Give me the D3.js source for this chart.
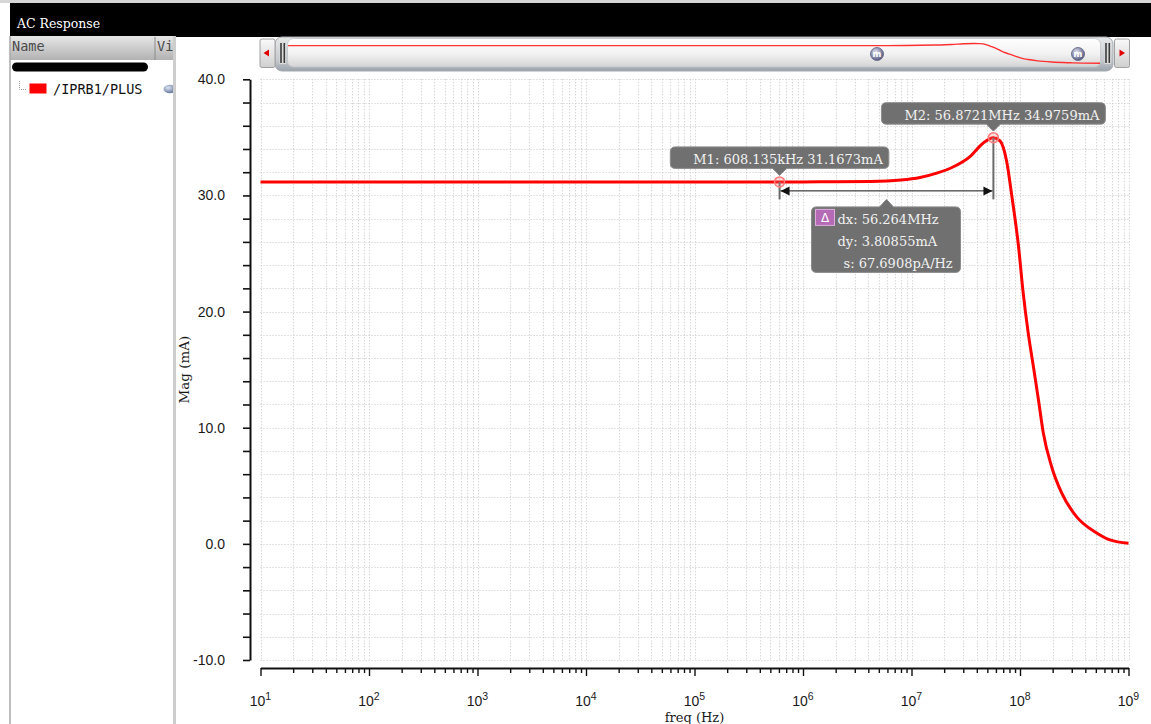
<!DOCTYPE html>
<html>
<head>
<meta charset="utf-8">
<title>AC Response</title>
<script src="https://cdn.jsdelivr.net/npm/d3@7"></script>
<style>
  html, body { margin: 0; padding: 0; background: #fff; overflow: hidden; }
  svg { display: block; }
</style>
</head>
<body>
<svg id="chart" width="1151" height="724"></svg>
<script>
// ---- AC sweep of the current through /IPRB1/PLUS ----
const signalNames = ["/IPRB1/PLUS"];
const freqHz = [1e1, 1e2, 1e3, 1e4, 1e5, 6.08135e5, 1e6, 2e6, 4.14e6, 8e6, 1.2e7, 1.71e7, 2.41e7,
  3.46e7, 4.56e7, 5.68721e7, 6.55e7, 7.54e7, 8.38e7, 9.68e7, 1.07e8, 1.19e8, 1.33e8, 1.48e8,
  1.64e8, 1.96e8, 2.42e8, 3.33e8, 5.09e8, 6.75e8, 1e9];
const magMA = [31.167, 31.167, 31.167, 31.167, 31.167, 31.1673, 31.168, 31.175, 31.2, 31.33, 31.55,
  31.92, 32.45, 33.35, 34.5, 34.9759, 34.7, 32.92, 30.05, 25.66, 21.61, 18.17, 15.24, 12.39,
  9.55, 6.62, 4.38, 2.32, 0.94, 0.34, 0.05];

// axis ticks
const yTickValues = [-10, -8, -6, -4, -2, 0, 2, 4, 6, 8, 10, 12, 14, 16, 18, 20, 22, 24, 26, 28, 30, 32, 34, 36, 38, 40];
const yTickLabels = { "-10": "-10.0", "0": "0.0", "10": "10.0", "20": "20.0", "30": "30.0", "40": "40.0" };
const xDecadeExponents = [1, 2, 3, 4, 5, 6, 7, 8, 9];
const xMinorMultipliers = [2, 3, 4, 5, 6, 7, 8, 9];

// markers
const markerFreqHz = [608.135e3, 56.8721e6];
const markerMagMA = [31.1673, 34.9759];
const markerLabels = ["M1: 608.135kHz 31.1673mA", "M2: 56.8721MHz 34.9759mA"];
const deltaLabels = ["dx: 56.264MHz", "dy: 3.80855mA", "s: 67.6908pA/Hz"];

const W = 1151, H = 724;
const svg = d3.select("#chart");
const defs = svg.append("defs");

function vGrad(id, stops) {
  const g = defs.append("linearGradient").attr("id", id)
    .attr("x1", 0).attr("y1", 0).attr("x2", 0).attr("y2", 1);
  stops.forEach(([o, c]) => g.append("stop").attr("offset", o).attr("stop-color", c));
}
vGrad("hdrGrad", [[0, "#e6e6e6"], [1, "#b2b2b2"]]);
vGrad("trackGrad", [[0, "#ffffff"], [0.55, "#f1f1f1"], [1, "#d4d4d6"]]);
vGrad("rimGrad", [[0, "#e8e8e8"], [0.7, "#c4c8cc"], [1, "#9aa2aa"]]);
vGrad("btnGrad", [[0, "#fafafa"], [1, "#cfcfcf"]]);
const rg = defs.append("radialGradient").attr("id", "mBall").attr("cx", "40%").attr("cy", "35%").attr("r", "65%");
rg.append("stop").attr("offset", 0).attr("stop-color", "#e4e4f2");
rg.append("stop").attr("offset", 1).attr("stop-color", "#555a80");
const eg = defs.append("radialGradient").attr("id", "eyeGrad").attr("cx", "35%").attr("cy", "35%").attr("r", "70%");
eg.append("stop").attr("offset", 0).attr("stop-color", "#dde4f2");
eg.append("stop").attr("offset", 1).attr("stop-color", "#5d6f96");
defs.append("clipPath").attr("id", "panelClip").append("rect").attr("x", 10).attr("y", 36).attr("width", 163).attr("height", H - 36);

// ---------- window frame ----------
svg.append("rect").attr("width", W).attr("height", H).attr("fill", "#fff");
svg.append("rect").attr("x", 0).attr("y", 0).attr("width", W).attr("height", 3).attr("fill", "#d6d6d6");
svg.append("rect").attr("x", 10).attr("y", 3).attr("width", W - 10).attr("height", 34).attr("fill", "#000");
svg.append("text").attr("x", 17).attr("y", 28)
  .attr("font-family", "DejaVu Serif").attr("font-size", 12.5).attr("fill", "#fff")
  .text("AC Response");

// ---------- left signal panel ----------
const panel = svg.append("g").attr("clip-path", "url(#panelClip)");
panel.append("rect").attr("x", 10).attr("y", 36).attr("width", 163).attr("height", 24).attr("fill", "url(#hdrGrad)");
panel.append("line").attr("x1", 155).attr("x2", 155).attr("y1", 37).attr("y2", 60).attr("stroke", "#8c8c8c");
panel.append("text").attr("x", 12).attr("y", 51)
  .attr("font-family", "DejaVu Sans Mono").attr("font-size", 13.5).attr("fill", "#4a4a4a").text("Name");
panel.append("text").attr("x", 157).attr("y", 51)
  .attr("font-family", "DejaVu Sans Mono").attr("font-size", 13.5).attr("fill", "#4a4a4a").text("Vis");
panel.append("rect").attr("x", 12).attr("y", 62.5).attr("width", 136).attr("height", 9).attr("rx", 4.5).attr("fill", "#000");
// tree connector
panel.append("path").attr("d", "M19.5,81 V89.5 H26").attr("fill", "none")
  .attr("stroke", "#9a9a9a").attr("stroke-dasharray", "1,1");
const legendRow = panel.selectAll("g.sig").data(signalNames).join("g").attr("class", "sig");
legendRow.append("rect").attr("x", 29.5).attr("y", 83.5).attr("width", 17).attr("height", 10).attr("fill", "#ff0000");
legendRow.append("text").attr("x", 53).attr("y", 93.5)
  .attr("font-family", "DejaVu Sans Mono").attr("font-size", 13.5).attr("fill", "#111").text(d => d);
legendRow.append("ellipse").attr("cx", 170).attr("cy", 89).attr("rx", 6.5).attr("ry", 4.2).attr("fill", "url(#eyeGrad)");
// panel borders
svg.append("line").attr("x1", 10).attr("x2", 10).attr("y1", 36).attr("y2", H).attr("stroke", "#a8a8a8").attr("stroke-width", 1.5);
svg.append("rect").attr("x", 173).attr("y", 36).attr("width", 3).attr("height", H - 36).attr("fill", "#cdcdcd");

// ---------- scales ----------
const x = d3.scaleLog().domain([1e1, 1e9]).range([260.5, 1128.5]);
const y = d3.scaleLinear().domain([-10, 40]).range([660, 79.3]);

// all log tick positions
const xTickValues = [];
xDecadeExponents.forEach(e => {
  xTickValues.push(Math.pow(10, e));
  if (e < 9) xMinorMultipliers.forEach(m => xTickValues.push(m * Math.pow(10, e)));
});
const isDecade = v => Math.abs(Math.log10(v) - Math.round(Math.log10(v))) < 1e-9;

// ---------- grid ----------
const grid = svg.append("g").attr("stroke", "#c6c6c6").attr("stroke-width", 1).attr("stroke-dasharray", "1,2");
grid.selectAll("line.gx").data(xTickValues).join("line").attr("class", "gx")
  .attr("x1", d => Math.round(x(d)) + 0.5).attr("x2", d => Math.round(x(d)) + 0.5)
  .attr("y1", y(40)).attr("y2", y(-10));
grid.selectAll("line.gy").data(yTickValues).join("line").attr("class", "gy")
  .attr("x1", x(1e1)).attr("x2", x(1e9))
  .attr("y1", d => Math.round(y(d)) + 0.5).attr("y2", d => Math.round(y(d)) + 0.5);

// ---------- axes ----------
const yAxis = d3.axisLeft(y).tickValues(yTickValues).tickSize(7).tickSizeOuter(0).tickPadding(18)
  .tickFormat(d => yTickLabels[String(d)] || "");
const gy = svg.append("g").attr("transform", "translate(250,0)").call(yAxis);
gy.select(".domain").attr("stroke", "#111").attr("stroke-width", 2);
gy.selectAll(".tick line").attr("stroke", "#111").attr("stroke-width", 1.6);
gy.selectAll(".tick text").attr("font-family", "Liberation Sans").attr("font-size", 14).attr("fill", "#1a1a1a");

const xAxis = d3.axisBottom(x).tickValues(xTickValues).tickSize(8).tickSizeOuter(0).tickFormat("");
const gx = svg.append("g").attr("transform", "translate(0,668)").call(xAxis);
gx.select(".domain").attr("stroke", "#111").attr("stroke-width", 2);
gx.selectAll(".tick line").attr("stroke", "#111").attr("stroke-width", 1.4)
  .attr("y2", d => isDecade(d) ? 8 : 5);
// decade labels as 10^n
const xl = svg.append("g").attr("font-family", "Liberation Sans").attr("fill", "#1a1a1a");
xDecadeExponents.forEach(e => {
  const t = xl.append("text").attr("x", x(Math.pow(10, e))).attr("y", 705.5)
    .attr("text-anchor", "middle").attr("font-size", 14);
  t.append("tspan").text("10");
  t.append("tspan").attr("font-size", 10.5).attr("dy", -6).text(String(e));
});

// axis titles
svg.append("text").attr("x", x(1e5)).attr("y", 721.5).attr("text-anchor", "middle")
  .attr("font-family", "DejaVu Serif").attr("font-size", 13).attr("fill", "#1a1a1a").text("freq (Hz)");
svg.append("text").attr("transform", "translate(189," + ((y(40) + y(-10)) / 2) + ") rotate(-90)")
  .attr("text-anchor", "middle").attr("font-family", "DejaVu Serif").attr("font-size", 13.5)
  .attr("fill", "#1a1a1a").text("Mag (mA)");

// ---------- curve ----------
const pts = freqHz.map((f, i) => [f, magMA[i]]);
const line = d3.line().x(d => x(d[0])).y(d => y(d[1])).curve(d3.curveMonotoneX);
svg.append("path").datum(pts).attr("d", line).attr("fill", "none")
  .attr("stroke", "#ff0000").attr("stroke-width", 3).attr("stroke-linejoin", "round");

// ---------- markers ----------
const mx = markerFreqHz.map(f => x(f));
const my = markerMagMA.map(v => y(v));
const arrowY = y(markerMagMA[0]) + 9;
const mk = svg.append("g");
mx.forEach((px, i) => {
  mk.append("line").attr("x1", px).attr("x2", px).attr("y1", my[i]).attr("y2", arrowY + 8.5)
    .attr("stroke", "#6a6a6a").attr("stroke-width", 2);
});
// delta arrow between M1 and M2
mk.append("line").attr("x1", mx[0] + 1).attr("x2", mx[1] - 1).attr("y1", arrowY).attr("y2", arrowY)
  .attr("stroke", "#111").attr("stroke-width", 1);
mk.append("path").attr("d", `M${mx[0] + 1},${arrowY} l9,-4.5 v9 z`).attr("fill", "#111");
mk.append("path").attr("d", `M${mx[1] - 1},${arrowY} l-9,-4.5 v9 z`).attr("fill", "#111");
mx.forEach((px, i) => {
  mk.append("circle").attr("cx", px).attr("cy", my[i]).attr("r", 5)
    .attr("fill", "rgba(255,120,120,0.25)").attr("stroke", "#ff7a7a").attr("stroke-width", 1.5);
});

// marker callouts
const boxFill = "#707070", boxStroke = "#8c8c8c", boxText = "#f2f2f2";
mx.forEach((px, i) => {
  const tip = my[i] - 6.5;
  const bottom = tip - 7;
  const top = bottom - 21.5;
  const g = svg.append("g");
  const t = g.append("text").attr("y", bottom - 4)
    .attr("font-family", "DejaVu Serif").attr("font-size", 13).attr("fill", boxText)
    .text(markerLabels[i]);
  const len = t.node().getComputedTextLength();
  const bw = len + 29;
  const bx = px - bw / 2;
  g.insert("path", "text")
    .attr("d", `M${bx + 5},${top} H${bx + bw - 5} Q${bx + bw},${top} ${bx + bw},${top + 5} V${bottom - 5} Q${bx + bw},${bottom} ${bx + bw - 5},${bottom}
                H${px + 7} L${px},${tip} L${px - 7},${bottom} H${bx + 5} Q${bx},${bottom} ${bx},${bottom - 5} V${top + 5} Q${bx},${top} ${bx + 5},${top} Z`)
    .attr("fill", boxFill).attr("stroke", boxStroke).attr("stroke-width", 1);
  t.attr("x", bx + 23);
});

// delta callout, hanging below the arrow midpoint
{
  const cx = (mx[0] + mx[1]) / 2;
  const tip = arrowY + 8.5;
  const top = tip + 7.5;
  const bw = 149, bh = 65.5;
  const bx = cx - 75;
  const g = svg.append("g");
  g.append("path")
    .attr("d", `M${bx + 5},${top} H${cx - 7} L${cx},${tip} L${cx + 7},${top} H${bx + bw - 5} Q${bx + bw},${top} ${bx + bw},${top + 5}
                V${top + bh - 5} Q${bx + bw},${top + bh} ${bx + bw - 5},${top + bh} H${bx + 5} Q${bx},${top + bh} ${bx},${top + bh - 5}
                V${top + 5} Q${bx},${top} ${bx + 5},${top} Z`)
    .attr("fill", boxFill).attr("stroke", boxStroke).attr("stroke-width", 1);
  g.append("rect").attr("x", bx + 4).attr("y", top + 2.5).attr("width", 19).attr("height", 16)
    .attr("fill", "#b46ab4").attr("stroke", "#e0b0e0").attr("stroke-width", 1);
  g.append("text").attr("x", bx + 13.5).attr("y", top + 15).attr("text-anchor", "middle")
    .attr("font-family", "DejaVu Sans").attr("font-size", 12).attr("fill", "#fff").text("\u0394");
  const offs = [[26, 17.5], [26, 39], [32, 61.5]];
  deltaLabels.forEach((s, i) => {
    g.append("text").attr("x", bx + offs[i][0]).attr("y", top + offs[i][1])
      .attr("font-family", "DejaVu Serif").attr("font-size", 13).attr("fill", boxText).text(s);
  });
}

// ---------- overview slider ----------
const sl = svg.append("g");
sl.append("rect").attr("x", 275).attr("y", 37).attr("width", 838).attr("height", 34).attr("rx", 7)
  .attr("fill", "url(#rimGrad)").attr("stroke", "#a4aab0").attr("stroke-width", 1);
sl.append("rect").attr("x", 287.5).attr("y", 38.5).attr("width", 813).attr("height", 28.5).attr("rx", 6)
  .attr("fill", "url(#trackGrad)").attr("stroke", "#c0c4c8").attr("stroke-width", 0.8);
// left / right scroll buttons
[[260, "M263.5,53 L269,49.5 L269,56.5 Z"], [1114.5, "M1125,53 L1119.5,49.5 L1119.5,56.5 Z"]].forEach(([bx, tri]) => {
  sl.append("rect").attr("x", bx).attr("y", 39).attr("width", 15).attr("height", 28.5).attr("rx", 2)
    .attr("fill", "url(#btnGrad)").attr("stroke", "#a0a0a0").attr("stroke-width", 1);
  sl.append("path").attr("d", tri).attr("fill", "#e00000");
});
// grips
[280.5, 1105.5].forEach(gx0 => {
  sl.append("rect").attr("x", gx0 - 1).attr("y", 42).attr("width", 6.5).attr("height", 22).attr("fill", "#dcdcdc");
  sl.append("line").attr("x1", gx0 + 0.5).attr("x2", gx0 + 0.5).attr("y1", 43).attr("y2", 63).attr("stroke", "#3a3a3a").attr("stroke-width", 1.6);
  sl.append("line").attr("x1", gx0 + 3.8).attr("x2", gx0 + 3.8).attr("y1", 43).attr("y2", 63).attr("stroke", "#3a3a3a").attr("stroke-width", 1.6);
});
// miniature trace
const xMini = d3.scaleLog().domain([1e1, 1e9]).range([288, 1100]);
const yMini = d3.scaleLinear().domain([0, 35]).range([63.3, 43.5]);
sl.append("path").datum(pts)
  .attr("d", d3.line().x(d => xMini(d[0])).y(d => yMini(d[1])).curve(d3.curveMonotoneX))
  .attr("fill", "none").attr("stroke", "#ff3030").attr("stroke-width", 1.4);
// marker bubbles on the overview
[877, 1078].forEach(bx => {
  sl.append("circle").attr("cx", bx).attr("cy", 54).attr("r", 6.5)
    .attr("fill", "url(#mBall)").attr("stroke", "#5a5e7e").attr("stroke-width", 0.8);
  sl.append("text").attr("x", bx).attr("y", 57).attr("text-anchor", "middle")
    .attr("font-family", "DejaVu Sans").attr("font-size", 8.5).attr("font-weight", "bold")
    .attr("fill", "#fff").text("m");
});
</script>
</body>
</html>
